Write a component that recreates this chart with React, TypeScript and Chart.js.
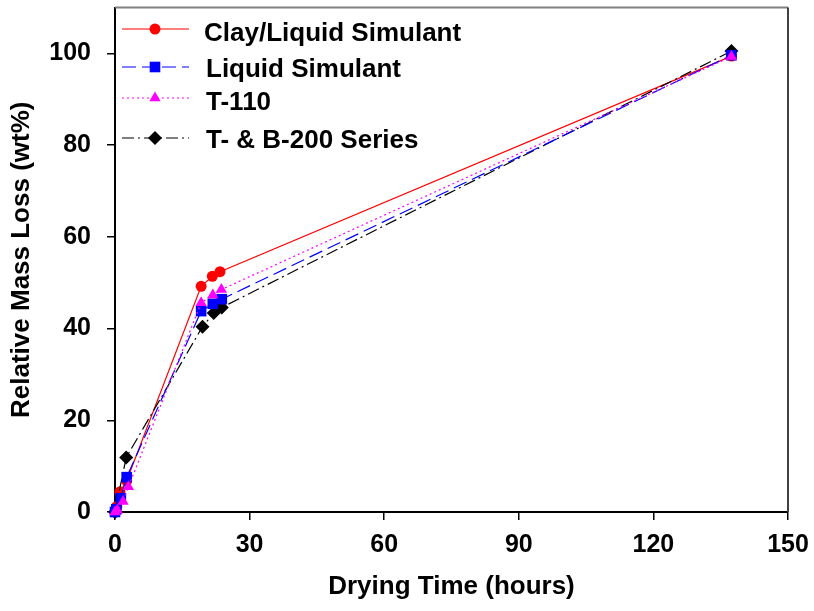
import React, { useEffect, useRef } from "react";
import { Chart, registerables } from "chart.js";

Chart.register(...registerables);

const X_TICKS = [0, 30, 60, 90, 120, 150];
const Y_TICKS = [0, 20, 40, 60, 80, 100];

const SERIES_NAMES = ["Clay/Liquid Simulant", "Liquid Simulant", "T-110", "T- & B-200 Series"];

const CLAY_X = [0, 0.4, 1.1, 2.6, 19.2, 21.7, 23.4, 137.4];
const CLAY_Y = [0, 1.2, 4.4, 6.8, 49.2, 51.4, 52.4, 99.4];

const LIQ_X = [0, 0.3, 1.3, 2.6, 19.2, 21.8, 23.8, 137.4];
const LIQ_Y = [0, 0.6, 3.0, 7.6, 43.8, 45.4, 46.4, 99.6];

const T110_X = [0, 0.5, 1.8, 3.0, 19.2, 21.8, 23.7, 137.4];
const T110_Y = [0, 0.4, 2.3, 5.5, 45.6, 47.3, 48.5, 99.3];

const TB_X = [0, 2.5, 19.5, 22.0, 23.8, 137.4];
const TB_Y = [0, 11.9, 40.4, 43.4, 44.6, 100.5];

const FONT = "'Liberation Sans', Arial, sans-serif";

const STYLES = [
  { color: "#ff0000", dash: [] as number[], point: "circle", radius: 5.5, order: 3 },
  { color: "#0000ff", dash: [14, 6], point: "rect", radius: 7.5, order: 1 },
  { color: "#ff00ff", dash: [2, 3], point: "triangle", radius: 6.5, order: 0 },
  { color: "#000000", dash: [12, 4, 2, 4], point: "rectRot", radius: 7, order: 2 },
];

function drawMarker(ctx: CanvasRenderingContext2D, style: string, x: number, y: number, r: number) {
  ctx.beginPath();
  if (style === "circle") {
    ctx.arc(x, y, r, 0, Math.PI * 2);
  } else if (style === "rect") {
    const s = Math.SQRT1_2 * r;
    ctx.rect(x - s, y - s, 2 * s, 2 * s);
  } else if (style === "triangle") {
    ctx.moveTo(x, y - r);
    ctx.lineTo(x + r * 0.866, y + r * 0.5);
    ctx.lineTo(x - r * 0.866, y + r * 0.5);
    ctx.closePath();
  } else {
    ctx.moveTo(x, y - r);
    ctx.lineTo(x + r, y);
    ctx.lineTo(x, y + r);
    ctx.lineTo(x - r, y);
    ctx.closePath();
  }
  ctx.fill();
}

const legendPlugin = {
  id: "customLegend",
  afterDraw(chart: any) {
    const ctx = chart.ctx as CanvasRenderingContext2D;
    const area = chart.chartArea;
    ctx.save();
    ctx.lineWidth = 2;
    ctx.strokeStyle = "#808080";
    ctx.beginPath();
    ctx.moveTo(area.left, area.top);
    ctx.lineTo(area.right, area.top);
    ctx.stroke();
    ctx.strokeStyle = "#404040";
    ctx.beginPath();
    ctx.moveTo(area.right, area.top);
    ctx.lineTo(area.right, area.bottom);
    ctx.stroke();
    ctx.restore();

    const rowsY = [29, 67, 98, 138];
    const baseY = [41, 77, 110, 148];
    const textX = [204, 206, 206, 206];
    ctx.save();
    SERIES_NAMES.forEach((name, i) => {
      const st = STYLES[i];
      ctx.strokeStyle = st.color;
      ctx.fillStyle = st.color;
      ctx.lineWidth = 1.2;
      ctx.setLineDash(st.dash);
      ctx.beginPath();
      ctx.moveTo(122, rowsY[i]);
      ctx.lineTo(189, rowsY[i]);
      ctx.stroke();
      ctx.setLineDash([]);
      drawMarker(ctx, st.point, 155, rowsY[i], st.radius);
      ctx.fillStyle = "#000";
      ctx.font = `bold 26px ${FONT}`;
      ctx.textAlign = "left";
      ctx.textBaseline = "alphabetic";
      ctx.fillText(name, textX[i], baseY[i]);
    });
    ctx.restore();
  },
};

function zeroPad(s: any) {
  s.paddingTop = 0;
  s.paddingBottom = 0;
  s.paddingLeft = 0;
  s.paddingRight = 0;
}

export default function App() {
  const ref = useRef<HTMLCanvasElement | null>(null);

  useEffect(() => {
    document.body.style.margin = "0";
    const canvas = ref.current!;
    const xs = [CLAY_X, LIQ_X, T110_X, TB_X];
    const ys = [CLAY_Y, LIQ_Y, T110_Y, TB_Y];
    const datasets = SERIES_NAMES.map((name, i) => ({
      label: name,
      data: xs[i].map((x, j) => ({ x, y: ys[i][j] })),
      borderColor: STYLES[i].color,
      backgroundColor: STYLES[i].color,
      pointBackgroundColor: STYLES[i].color,
      pointBorderColor: STYLES[i].color,
      pointBorderWidth: 0,
      borderWidth: 1.2,
      borderDash: STYLES[i].dash,
      pointStyle: STYLES[i].point,
      pointRadius: STYLES[i].radius,
      tension: 0,
      clip: false as any,
      order: STYLES[i].order,
    }));

    const chart = new Chart(canvas, {
      type: "line",
      data: { datasets },
      options: {
        animation: false,
        responsive: false,
        layout: { padding: { top: 6, right: 26, left: 0, bottom: 0 } },
        plugins: { legend: { display: false }, tooltip: { enabled: false } },
        scales: {
          x: {
            type: "linear",
            min: 0,
            max: 150,
            afterBuildTicks: (s: any) => {
              s.ticks = X_TICKS.map((v) => ({ value: v }));
            },
            afterFit: (s: any) => {
              s.height = 99;
              zeroPad(s);
            },
            grid: { drawOnChartArea: false, drawTicks: true, tickLength: 8, color: "#000", lineWidth: 1.5 },
            border: { display: true, color: "#000", width: 2 },
            ticks: {
              color: "#000",
              padding: 10,
              maxRotation: 0,
              font: { family: FONT, size: 25, weight: "bold" },
            },
            title: {
              display: true,
              text: "Drying Time (hours)",
              color: "#000",
              font: { family: FONT, size: 26, weight: "bold" },
              padding: { top: 0, bottom: 9 },
            },
          },
          y: {
            type: "linear",
            min: 0,
            max: 110,
            afterBuildTicks: (s: any) => {
              s.ticks = Y_TICKS.map((v) => ({ value: v }));
            },
            afterFit: (s: any) => {
              s.width = 115;
              zeroPad(s);
            },
            grid: { drawOnChartArea: false, drawTicks: true, tickLength: 8, color: "#000", lineWidth: 1.5 },
            border: { display: true, color: "#000", width: 2 },
            ticks: {
              color: "#000",
              padding: 16,
              font: { family: FONT, size: 25, weight: "bold" },
            },
            title: {
              display: true,
              text: "Relative Mass Loss (wt%)",
              color: "#000",
              font: { family: FONT, size: 26, weight: "bold" },
              padding: { top: 6, bottom: 0 },
            },
          },
        },
      },
      plugins: [legendPlugin],
    });
    return () => chart.destroy();
  }, []);

  return (
    <div style={{ width: 814, height: 611 }}>
      <canvas ref={ref} width={814} height={611} style={{ display: "block" }} />
    </div>
  );
}
